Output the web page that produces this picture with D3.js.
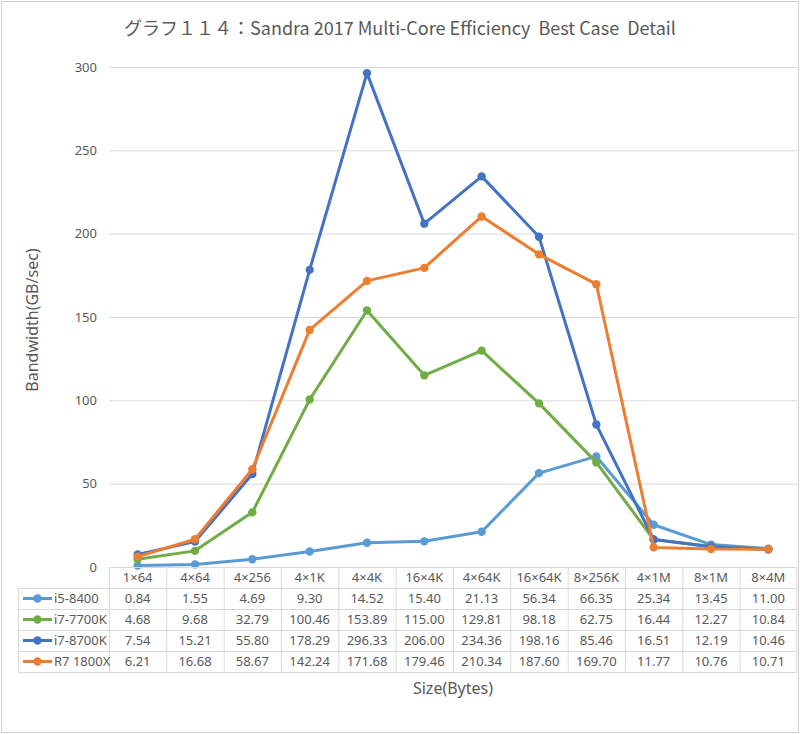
<!DOCTYPE html>
<html><head><meta charset="utf-8">
<script src="https://cdn.jsdelivr.net/npm/d3@7"></script>
<style>body{margin:0;background:#fff}svg{display:block}</style>
</head><body>
<svg id="c" width="800" height="734"></svg>
<script>
const categories = ["1×64","4×64","4×256","4×1K","4×4K","16×4K","4×64K","16×64K","8×256K","4×1M","8×1M","8×4M"];
const seriesNames = ["i5-8400","i7-7700K","i7-8700K","R7 1800X"];
const i5_8400 = [0.84,1.55,4.69,9.30,14.52,15.40,21.13,56.34,66.35,25.34,13.45,11.00];
const i7_7700K = [4.68,9.68,32.79,100.46,153.89,115.00,129.81,98.18,62.75,16.44,12.27,10.84];
const i7_8700K = [7.54,15.21,55.80,178.29,296.33,206.00,234.36,198.16,85.46,16.51,12.19,10.46];
const r7_1800X = [6.21,16.68,58.67,142.24,171.68,179.46,210.34,187.60,169.70,11.77,10.76,10.71];
const yTicks = [0,50,100,150,200,250,300];
const colors = ["#5B9BD5","#70AD47","#4472C4","#ED7D31"];
const seriesValues = [i5_8400, i7_7700K, i7_8700K, r7_1800X];

const svg = d3.select("#c");
const font = "'Segoe UI','Noto Sans','Open Sans',sans-serif";
const txt = "#595959";

// outer border
svg.append("rect").attr("x",1.5).attr("y",1.5).attr("width",797).attr("height",731)
  .attr("fill","#fff").attr("stroke","#d0d0d0").attr("stroke-width",1);

// title
svg.append("text").attr("x",400).attr("y",35).attr("text-anchor","middle")
  .style("white-space","pre")
  .attr("font-family","'Noto Sans CJK JP','Noto Sans',sans-serif").attr("font-size",18)
  .attr("fill",txt).text("グラフ１１４：Sandra 2017 Multi-Core Efficiency  Best Case  Detail");

const x = d3.scaleBand().domain(categories).range([109,797]).padding(0);
const y = d3.scaleLinear().domain([0,300]).range([567,67]);

// gridlines
svg.append("g").selectAll("line").data(yTicks).join("line")
  .attr("x1",109).attr("x2",797).attr("y1",d=>y(d)+0.5).attr("y2",d=>y(d)+0.5)
  .attr("stroke","#d9d9d9").attr("stroke-width",1);

// y axis labels
const yAxis = d3.axisLeft(y).tickValues(yTicks).tickSize(0).tickPadding(12);
const gy = svg.append("g").attr("transform","translate(109,0)").call(yAxis);
gy.select(".domain").remove();
gy.selectAll("text").attr("font-family",font).attr("font-size",13).attr("fill",txt);

// y axis title
svg.append("text").attr("transform","translate(38,320) rotate(-90)").attr("text-anchor","middle")
  .attr("font-family",font).attr("font-size",16).attr("fill",txt).text("Bandwidth(GB/sec)");

// lines
const line = d3.line().x((d,i)=>x(categories[i])+x.bandwidth()/2).y(d=>y(d));
seriesValues.forEach((vals,si)=>{
  const g = svg.append("g");
  g.append("path").datum(vals).attr("d",line).attr("fill","none")
    .attr("stroke",colors[si]).attr("stroke-width",3).attr("stroke-linejoin","round");
  g.selectAll("circle").data(vals).join("circle")
    .attr("cx",(d,i)=>x(categories[i])+x.bandwidth()/2).attr("cy",d=>y(d)).attr("r",4.2)
    .attr("fill",colors[si]);
});

// data table
const rowH = 21;
const tTop = 567;
const tLeft = 18;
const tg = svg.append("g");
const gridC = "#d9d9d9";
tg.append("line").attr("x1",109).attr("x2",797).attr("y1",tTop+0.5).attr("y2",tTop+0.5).attr("stroke",gridC);
for(let r=1;r<=5;r++){
  tg.append("line").attr("x1",tLeft).attr("x2",797).attr("y1",tTop+r*rowH+0.5).attr("y2",tTop+r*rowH+0.5).attr("stroke",gridC);
}
tg.append("line").attr("x1",tLeft+0.5).attr("x2",tLeft+0.5).attr("y1",tTop+rowH).attr("y2",tTop+5*rowH).attr("stroke",gridC);
categories.forEach((c,i)=>{
  const xx = x(c);
  tg.append("line").attr("x1",xx+0.5).attr("x2",xx+0.5).attr("y1",tTop).attr("y2",tTop+5*rowH).attr("stroke",gridC);
});
tg.append("line").attr("x1",796.5).attr("x2",796.5).attr("y1",tTop).attr("y2",tTop+5*rowH).attr("stroke",gridC);
tg.selectAll("text.h").data(categories).join("text").attr("class","h")
  .attr("x",d=>x(d)+x.bandwidth()/2).attr("y",tTop+rowH/2+4.5).attr("text-anchor","middle")
  .attr("font-family",font).attr("font-size",13).attr("fill",txt).text(d=>d);
seriesValues.forEach((vals,si)=>{
  const cy = tTop+(si+1)*rowH+rowH/2;
  tg.append("line").attr("x1",23).attr("x2",52).attr("y1",cy).attr("y2",cy)
    .attr("stroke",colors[si]).attr("stroke-width",3);
  tg.append("circle").attr("cx",37.5).attr("cy",cy).attr("r",4.2).attr("fill",colors[si]);
  tg.append("text").attr("x",54).attr("y",cy+4.5).attr("font-family",font).attr("font-size",13)
    .attr("fill",txt).text(seriesNames[si]);
  tg.selectAll(null).data(vals).join("text")
    .attr("x",(d,i)=>x(categories[i])+x.bandwidth()/2).attr("y",cy+4.5).attr("text-anchor","middle")
    .attr("font-family",font).attr("font-size",13).attr("fill",txt).text(d=>d.toFixed(2));
});

// x axis title
svg.append("text").attr("x",453).attr("y",694).attr("text-anchor","middle")
  .attr("font-family",font).attr("font-size",16).attr("fill",txt).text("Size(Bytes)");
</script>
</body></html>
